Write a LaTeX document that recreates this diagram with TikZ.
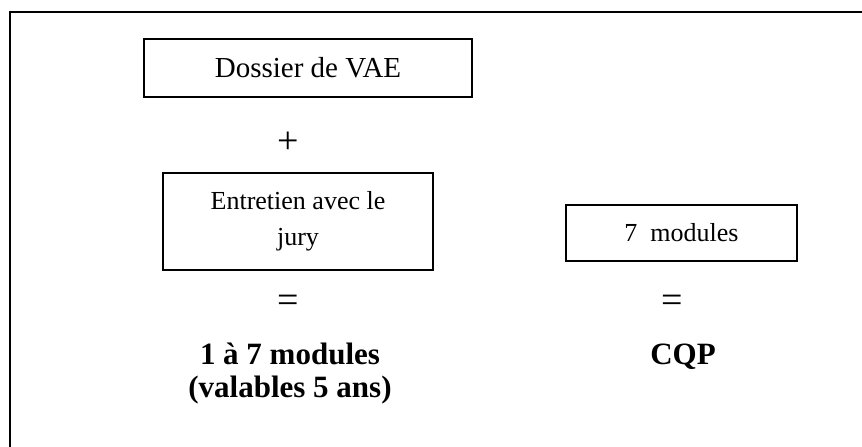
\documentclass[tikz,border=0pt]{standalone}
\usepackage{fontspec}
\setmainfont{Liberation Serif}
\usepackage{tikz}

\begin{document}
\begin{tikzpicture}[x=1pt,y=-1pt,
	box/.style={draw,line width=1.3pt,inner sep=0pt,align=center},
	sign/.style={inner sep=0pt,font=\fontsize{38}{38}\selectfont},
	result/.style={inner sep=0pt,align=center,font=\fontsize{31}{33}\selectfont\bfseries}]
	\useasboundingbox (0,0) rectangle (862,447);
	\coordinate (f1) at (10,12);
	\coordinate (f2) at (890,480);
	\coordinate (d1) at (308,68);
	\coordinate (p1) at (288,143);
	\coordinate (e1) at (298,221.5);
	\coordinate (q1) at (288,304);
	\coordinate (r1) at (290,397);
	\coordinate (m1) at (681.5,233);
	\coordinate (q2) at (672,304);
	\coordinate (r2) at (683,364);
	
	\begin{scope}
		\clip (0,0) rectangle (862,447);
		\draw[line width=1.6pt] (f1) rectangle (f2);
	\end{scope}
	
	\node (dossier) at (d1) [box,minimum width=328pt,minimum height=58pt,font=\fontsize{29}{29}\selectfont] {Dossier de VAE};
	\node (plus) at (p1) [sign] {+};
	\node (entretien) at (e1) [box,minimum width=270pt,minimum height=97pt,font=\fontsize{26}{36}\selectfont] {Entretien avec le\\jury};
	\node (egal1) at (q1) [sign] {=};
	\node (modules) at (r1) [result,anchor=base] {1 à 7 modules\\(valables 5 ans)};
	
	\node (sept) at (m1) [box,minimum width=231pt,minimum height=56pt,font=\fontsize{26}{26}\selectfont] {7\ \ modules};
	\node (egal2) at (q2) [sign] {=};
	\node (cqp) at (r2) [result,anchor=base] {CQP};
\end{tikzpicture}
\end{document}
